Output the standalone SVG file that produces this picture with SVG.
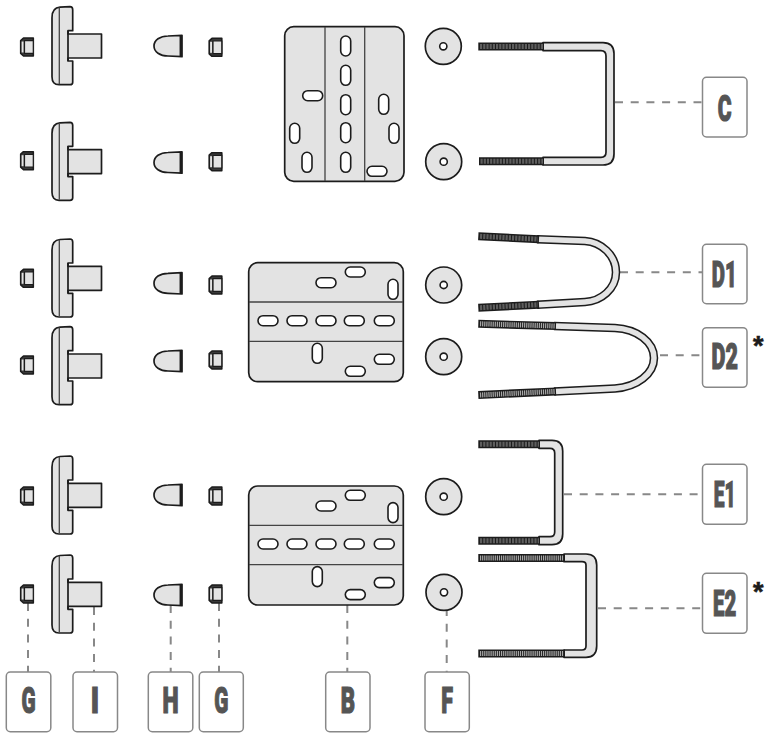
<svg xmlns="http://www.w3.org/2000/svg" width="765" height="733" viewBox="0 0 765 733">
<style>
.p{fill:#e3e3e3;stroke:#1c1c1c;stroke-width:1.7;stroke-linejoin:round}
.s{fill:#fff;stroke:#1c1c1c;stroke-width:1.6}
.fold{fill:none;stroke:#444;stroke-width:1.3}
.box{fill:#fff;stroke:#888;stroke-width:1.5}
.t{font-family:"Roboto","Liberation Sans",sans-serif;font-weight:900;font-size:37px;fill:#555;stroke:#555;stroke-width:1.2;text-anchor:middle}
.ast{font-family:"Liberation Sans",sans-serif;font-weight:700;font-size:27px;fill:#1c1c1c;stroke:#1c1c1c;stroke-width:.6;text-anchor:middle}
.c{fill:none;stroke:#888;stroke-width:2;stroke-dasharray:8 7.7}
.o{fill:none;stroke:#1c1c1c;stroke-width:8.5}
.i{fill:none;stroke:#e3e3e3;stroke-width:5.5}
.th{fill:none;stroke:#1c1c1c;stroke-width:8}
.tk{fill:none;stroke:#5e5e5e;stroke-width:5;stroke-dasharray:2.2 1}
.tf{fill:none;stroke:#a8a8a8;stroke-width:5;stroke-dasharray:1.2 .9}
</style>
<defs>
<g id="bracket">
<path class="p" d="M16 27.3H49.5V51.3H16V54.3H20.7V75.5Q20.7 78 18 78H7Q0 78 0 70V11Q0 1 8 0.5L18 0Q20.7 0 20.7 3V24H16Z"/>
<path class="fold" d="M7.3 0.8V77.5"/>
<path fill="none" stroke="#1c1c1c" stroke-width="1.7" d="M16 24V54.3"/>
</g>
<g id="nut">
<path fill="#3a3a3a" stroke="#1c1c1c" stroke-width="1.6" stroke-linejoin="round" d="M3.5 -9H13.3V9H3.5L0.7 6.5V-6.5Z"/>
<path fill="#e3e3e3" d="M1.6 -5.5H3.6V5.5H1.6Z"/>
<path fill="#e3e3e3" stroke="#1c1c1c" stroke-width="1.2" d="M4.5 -6.3H13.3V6.3H4.5Z"/>
</g>
<g id="cap">
<path class="p" d="M0 0C0 -6 6 -10 14 -10L28 -10.7V10.7L14 10C6 10 0 6 0 0Z"/>
<path fill="none" stroke="#1c1c1c" stroke-width="2.5" d="M26.8 -10.7V10.7"/>
</g>
<g id="washer">
<circle class="p" r="18"/>
<circle class="s" r="3.6"/>
</g>
<rect id="v" class="s" x="-5" y="-10" width="10" height="20" rx="5"/>
<rect id="h" class="s" x="-10" y="-5" width="20" height="10" rx="5"/>
<g id="plateB">
<rect class="p" x="248.7" y="262.7" width="154.6" height="119" rx="9"/>
<path class="fold" d="M249 302H403M249 341.3H403"/>
<use href="#h" x="355.3" y="272"/><use href="#h" x="326" y="282.7"/><use href="#v" x="393" y="289.3"/>
<use href="#h" x="268" y="320.7"/><use href="#h" x="297" y="320.7"/><use href="#h" x="326" y="320.7"/><use href="#h" x="354.3" y="320.7"/><use href="#h" x="384.3" y="320.7"/>
<use href="#v" x="317.3" y="353.3"/><use href="#h" x="384.3" y="359.3"/><use href="#h" x="355.3" y="371.3"/>
</g>
</defs>

<g id="connectors">
<path class="c" d="M615 102.3H702.3"/>
<path class="c" d="M620 272.3H702.3"/>
<path class="c" d="M660 355.3H702.3"/>
<path class="c" d="M564 494.3H702.3"/>
<path class="c" d="M598 608.3H702.3"/>
<path class="c" d="M28 603V672"/>
<path class="c" d="M94 607V672"/>
<path class="c" d="M170.7 605V672"/>
<path class="c" d="M219 603V672"/>
<path class="c" d="M347.3 605V672"/>
<path class="c" d="M446.7 608V672"/>
</g>

<g id="bracket-1"><use href="#bracket" x="52" y="6.7"/></g>
<g id="bracket-2"><use href="#bracket" x="52" y="122.3"/></g>
<g id="bracket-3"><use href="#bracket" x="52" y="239"/></g>
<g id="bracket-4"><use href="#bracket" x="52" y="326.7"/></g>
<g id="bracket-5"><use href="#bracket" x="52" y="456"/></g>
<g id="bracket-6"><use href="#bracket" x="52" y="555"/></g>

<g id="nut-l1"><use href="#nut" x="20" y="47"/></g>
<g id="nut-l2"><use href="#nut" x="20" y="160.7"/></g>
<g id="nut-l3"><use href="#nut" x="20" y="278.3"/></g>
<g id="nut-l4"><use href="#nut" x="20" y="365"/></g>
<g id="nut-l5"><use href="#nut" x="20" y="496"/></g>
<g id="nut-l6"><use href="#nut" x="20" y="594"/></g>

<g id="cap-1"><use href="#cap" x="154" y="46"/></g>
<g id="cap-2"><use href="#cap" x="154" y="162.5"/></g>
<g id="cap-3"><use href="#cap" x="154" y="283.3"/></g>
<g id="cap-4"><use href="#cap" x="154" y="361"/></g>
<g id="cap-5"><use href="#cap" x="154" y="495"/></g>
<g id="cap-6"><use href="#cap" x="154" y="595"/></g>

<g id="nut-r1"><use href="#nut" x="208.5" y="47.3"/></g>
<g id="nut-r2"><use href="#nut" x="208.5" y="161.7"/></g>
<g id="nut-r3"><use href="#nut" x="208.5" y="285"/></g>
<g id="nut-r4"><use href="#nut" x="208.5" y="360"/></g>
<g id="nut-r5"><use href="#nut" x="208.5" y="496"/></g>
<g id="nut-r6"><use href="#nut" x="208.5" y="594"/></g>

<g id="plate-a">
<rect class="p" x="284.7" y="26.7" width="119.3" height="154.6" rx="9"/>
<path class="fold" d="M325 27V181M364.7 27V181"/>
<use href="#v" x="345.7" y="46"/><use href="#v" x="345.7" y="75.3"/><use href="#v" x="345.7" y="104.7"/><use href="#v" x="345.7" y="132.7"/><use href="#v" x="345.7" y="162.3"/>
<use href="#v" x="383.7" y="104.3"/><use href="#v" x="394" y="133.3"/><use href="#v" x="294.7" y="133.3"/><use href="#v" x="307" y="162.3"/>
<use href="#h" x="312.7" y="95.7"/><use href="#h" x="377" y="171.3"/>
</g>
<g id="plate-b1"><use href="#plateB"/></g>
<g id="plate-b2"><use href="#plateB" y="223.3"/></g>

<g id="washer-1"><use href="#washer" x="443.3" y="46.3"/></g>
<g id="washer-2"><use href="#washer" x="443.7" y="161.7"/></g>
<g id="washer-3"><use href="#washer" x="443.7" y="285"/></g>
<g id="washer-4"><use href="#washer" x="443.7" y="356.7"/></g>
<g id="washer-5"><use href="#washer" x="443.7" y="496.7"/></g>
<g id="washer-6"><use href="#washer" x="444" y="592.3"/></g>

<g id="ubolt-c">
<path class="p" d="M543 42.6H603Q614 42.6 614 53.6V154Q614 165 603 165H543V157.3H601Q606 157.3 606 152.3V56Q606 50.6 601 50.6H543Z"/>
<path class="th" d="M478.3 46.6H544"/><path class="tk" d="M480 46.6H543"/>
<path class="th" d="M479 161.2H544"/><path class="tk" d="M480.5 161.2H543"/>
</g>
<g id="ubolt-d1">
<path class="o" d="M537 239.2L585 241C601 242 616 255 616 272.3C616 289 601 301 585 302L537 304.8"/>
<path class="i" d="M538 239.2L585 241C601 242 616 255 616 272.3C616 289 601 301 585 302L538 304.8"/>
<path class="th" d="M478.3 236.2L539 239.2"/><path class="tk" d="M480 236.3L538 239.2"/>
<path class="th" d="M478.3 307.8L539 304.7"/><path class="tk" d="M480 307.7L538 304.7"/>
</g>
<g id="ubolt-d2">
<path class="o" d="M554 326L615 328C637 329 654 342 654 358C654 374 637 387 615 388.5L554 391.5"/>
<path class="i" d="M555 326L615 328C637 329 654 342 654 358C654 374 637 387 615 388.5L555 391.5"/>
<path class="th" d="M478.3 323.8L556 326"/><path class="tf" d="M480 323.8L555 326"/>
<path class="th" d="M478.3 395L556 391.4"/><path class="tf" d="M480 395L555 391.4"/>
</g>
<g id="ubolt-e1">
<path class="p" d="M539 440.3H552Q562.7 440.3 562.7 451V534Q562.7 544.7 552 544.7H539V536.7H550Q554.7 536.7 554.7 532V453Q554.7 448.3 550 448.3H539Z"/>
<path class="th" d="M478.3 444.3H540"/><path class="tk" d="M480 444.3H539"/>
<path class="th" d="M478.3 540.7H540"/><path class="tk" d="M480 540.7H539"/>
</g>
<g id="ubolt-e2">
<path class="p" d="M564 554H586Q596.7 554 596.7 565V646Q596.7 657.3 586 657.3H564V650H582Q586 650 586 646V565Q586 561.7 582 561.7H564Z"/>
<path class="th" d="M478.3 557.9H565"/><path class="tf" d="M480 557.9H564"/>
<path class="th" d="M478.3 653.6H565"/><path class="tf" d="M480 653.6H564"/>
</g>

<g id="label-c"><rect class="box" x="702.5" y="77.3" width="44.5" height="59.7" rx="4"/><text class="t" transform="translate(724.7 120.7) scale(.57 1)">C</text></g>
<g id="label-d1"><rect class="box" x="702.5" y="244.3" width="44.5" height="59.4" rx="4"/><text class="t" transform="translate(724.2 286.7) scale(.55 1)">D1</text></g>
<g id="label-d2"><rect class="box" x="702.5" y="327.7" width="44.5" height="59.6" rx="4"/><text class="t" transform="translate(724.7 369.3) scale(.58 1)">D2</text><text class="ast" x="758.3" y="355">*</text></g>
<g id="label-e1"><rect class="box" x="702.5" y="464.3" width="44.5" height="60" rx="4"/><text class="t" transform="translate(724.7 507) scale(.52 1)">E1</text></g>
<g id="label-e2"><rect class="box" x="702.5" y="573.3" width="44.5" height="60" rx="4"/><text class="t" transform="translate(724.7 615.7) scale(.55 1)">E2</text><text class="ast" x="758.3" y="600.5">*</text></g>
<g id="label-g1"><rect class="box" x="6.3" y="672" width="44.5" height="59.7" rx="4"/><text class="t" transform="translate(28.5 713.3) scale(.56 1)">G</text></g>
<g id="label-i"><rect class="box" x="73" y="672" width="44.5" height="59.7" rx="4"/><text class="t" transform="translate(95 713.3) scale(.75 1)">I</text></g>
<g id="label-h"><rect class="box" x="148.3" y="672" width="44.5" height="59.7" rx="4"/><text class="t" transform="translate(170.6 713.3) scale(.62 1)">H</text></g>
<g id="label-g2"><rect class="box" x="199.3" y="672" width="44" height="59.7" rx="4"/><text class="t" transform="translate(221.3 713.3) scale(.56 1)">G</text></g>
<g id="label-b"><rect class="box" x="325.7" y="672" width="44.3" height="59.7" rx="4"/><text class="t" transform="translate(348 713.3) scale(.6 1)">B</text></g>
<g id="label-f"><rect class="box" x="425" y="672" width="44.3" height="59.7" rx="4"/><text class="t" transform="translate(447.2 713.3) scale(.58 1)">F</text></g>
</svg>
